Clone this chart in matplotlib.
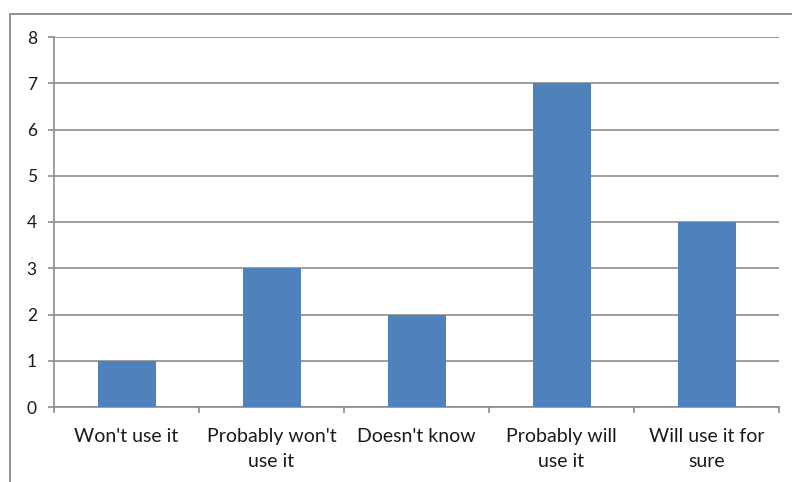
import matplotlib
matplotlib.use("Agg")
import matplotlib.pyplot as plt
from matplotlib.patches import Rectangle

categories = ["Won't use it", "Probably won't\nuse it", "Doesn't know",
              "Probably will\nuse it", "Will use it for\nsure"]
counts = [1, 3, 2, 7, 4]
y_ticks = [0, 1, 2, 3, 4, 5, 6, 7, 8]

W, H = 792, 482
fig = plt.figure(figsize=(W / 100, H / 100), dpi=100)
plt.rcParams['font.family'] = ['Lato', 'DejaVu Sans']

grid_col = "#8c8c8c"
bar_col = "#4f81bd"
text_col = "#1a1a1a"

# outer chart frame
fig.patches.append(Rectangle((10 / W, -0.1), 1.2, (H - 14) / H + 0.1,
                             transform=fig.transFigure, fill=False,
                             edgecolor="#8a8a8a", linewidth=1.3))

ax = fig.add_axes([54 / W, (H - 407) / H, 725 / W, 370 / H])
x = list(range(len(categories)))
ax.bar(x, counts, width=0.4, color=bar_col, zorder=3)

ax.set_xlim(-0.5, len(categories) - 0.5)
ax.set_ylim(0, 8)
ax.set_yticks(y_ticks)
ax.yaxis.grid(True, color=grid_col, linewidth=1.2, zorder=0)
ax.set_axisbelow(True)

for s in ("top", "right"):
    ax.spines[s].set_visible(False)
for s in ("left", "bottom"):
    ax.spines[s].set_color(grid_col)
    ax.spines[s].set_linewidth(1.2)

ax.tick_params(axis="y", length=4.3, width=1.2, color=grid_col, pad=8,
               labelsize=12.5, labelcolor=text_col)
# boundary ticks between categories
ax.set_xticks([i + 0.5 for i in range(-1, len(categories))], minor=False)
ax.set_xticklabels([])
ax.tick_params(axis="x", which="major", length=4.3, width=1.2, color=grid_col)
# category labels centred under bars
ax.set_xticks(x, minor=True)
ax.set_xticklabels(categories, minor=True, fontsize=14, color=text_col,
                   linespacing=1.6)
ax.tick_params(axis="x", which="minor", length=0, pad=15)

fig.savefig("out.png", dpi=100)
